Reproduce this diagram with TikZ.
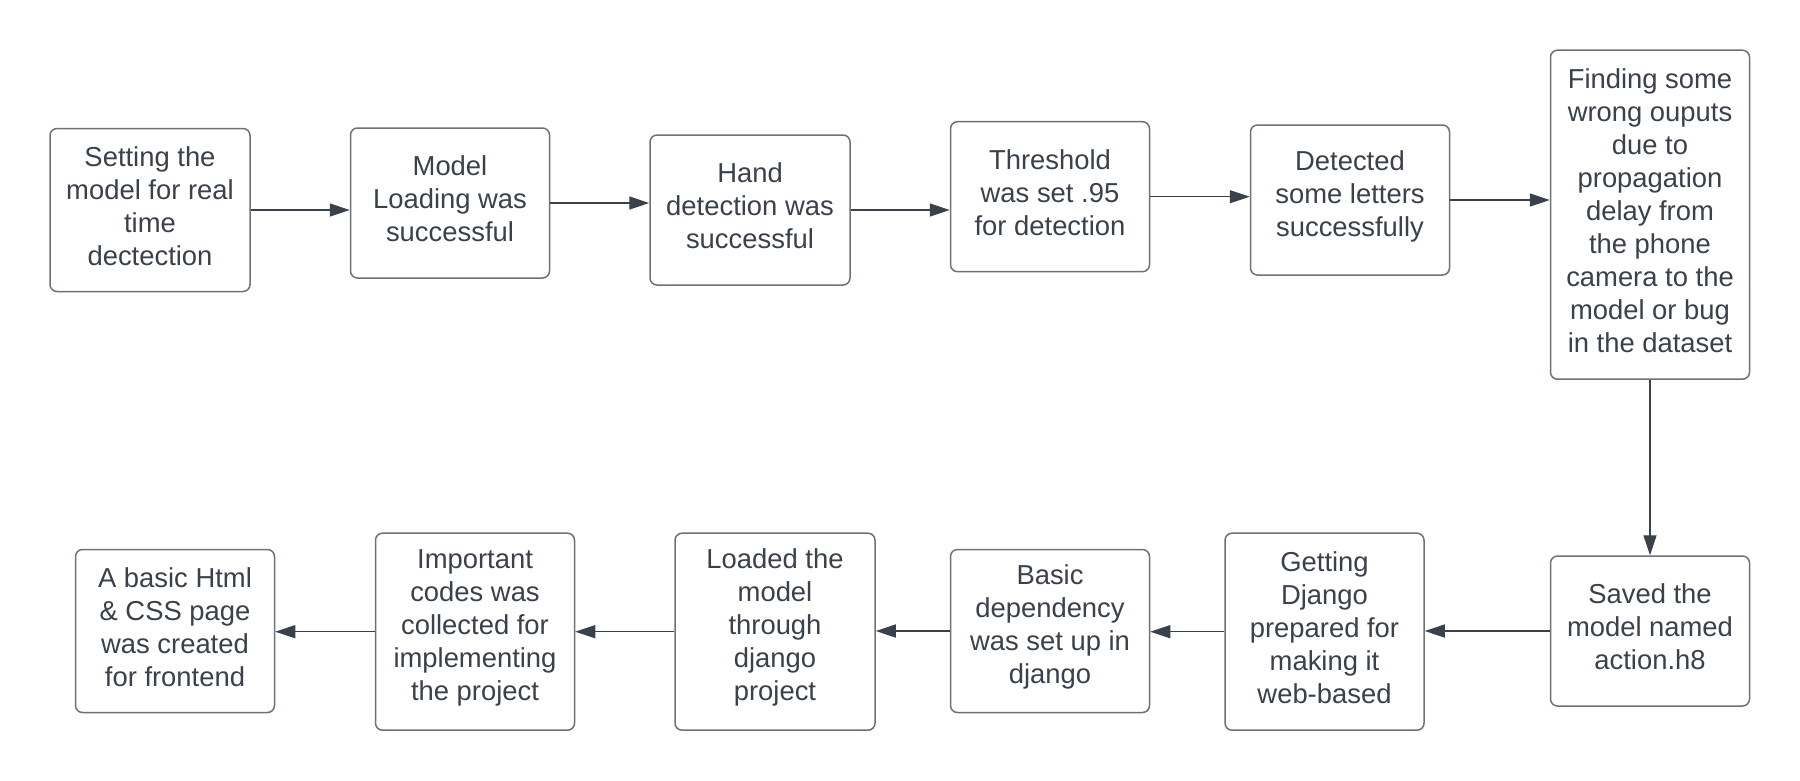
\documentclass[tikz,border=0pt]{standalone}
\usepackage{fontspec}
\setmainfont{Liberation Sans}
\usetikzlibrary{arrows.meta}
\definecolor{txt}{HTML}{3A414A}
\definecolor{boxline}{HTML}{6E7177}
\definecolor{arr}{HTML}{3A414A}
\newcommand\flowbox[5]{\node[stepbox,minimum width=#1,minimum height=#2,
  label={[boxtext]center:{#5}}] (#3) at #4 {};}
\begin{document}
\begin{tikzpicture}[x=1pt,y=-1pt,
  stepbox/.style={draw=boxline,line width=1.5pt,rounded corners=7pt,fill=white,inner sep=0pt},
  boxtext/.style={inner sep=0pt,align=center,text=txt,
    font=\fontsize{27.4}{33}\selectfont,yshift=4pt},
  flow/.style={draw=arr,line width=1.4pt,-{Triangle[length=20pt,width=13pt]}}]
\useasboundingbox (0,0) rectangle (1800,780);
\fill[white] (0,0) rectangle (1800,780);
% top row
\flowbox{200pt}{163pt}{t1}{(150,210)}{Setting the\\model for real\\time\\dectection}
\flowbox{199pt}{150pt}{t2}{(450,203)}{Model\\Loading was\\successful}
\flowbox{200pt}{150pt}{t3}{(750,210)}{Hand\\detection was\\successful}
\flowbox{199pt}{150pt}{t4}{(1050,196.7)}{Threshold\\was set .95\\for detection}
\flowbox{199pt}{150pt}{t5}{(1350,200)}{Detected\\some letters\\successfully}
\flowbox{199pt}{329pt}{t6}{(1650,214.7)}{Finding some\\wrong ouputs\\due to\\propagation\\delay from\\the phone\\camera to the\\model or bug\\in the dataset}
% bottom row
\flowbox{199pt}{150pt}{b6}{(1650,631)}{Saved the\\model named\\action.h8}
\flowbox{199pt}{197pt}{b5}{(1324.5,631.7)}{Getting\\Django\\prepared for\\making it\\web-based}
\flowbox{199pt}{163pt}{b4}{(1050,631)}{Basic\\dependency\\was set up in\\django}
\flowbox{200pt}{197pt}{b3}{(775,631.7)}{Loaded the\\model\\through\\django\\project}
\flowbox{199pt}{197pt}{b2}{(475,631.7)}{Important\\codes was\\collected for\\implementing\\the project}
\flowbox{199pt}{163pt}{b1}{(175,631)}{A basic Html\\\& CSS page\\was created\\for frontend}
% connectors
\draw[flow] (t1.east) -- (t1.east -| t2.west);
\draw[flow] (t2.east) -- (t2.east -| t3.west);
\draw[flow] (t3.east) -- (t3.east -| t4.west);
\draw[flow] (t4.east) -- (t4.east -| t5.west);
\draw[flow] (t5.east) -- (t5.east -| t6.west);
\draw[flow] (t6.south) -- (b6.north);
\draw[flow] (b6.west) -- (b6.west -| b5.east);
\draw[flow] (b5.west) -- (b5.west -| b4.east);
\draw[flow] (b4.west) -- (b4.west -| b3.east);
\draw[flow] (b3.west) -- (b3.west -| b2.east);
\draw[flow] (b2.west) -- (b2.west -| b1.east);
\end{tikzpicture}
\end{document}
